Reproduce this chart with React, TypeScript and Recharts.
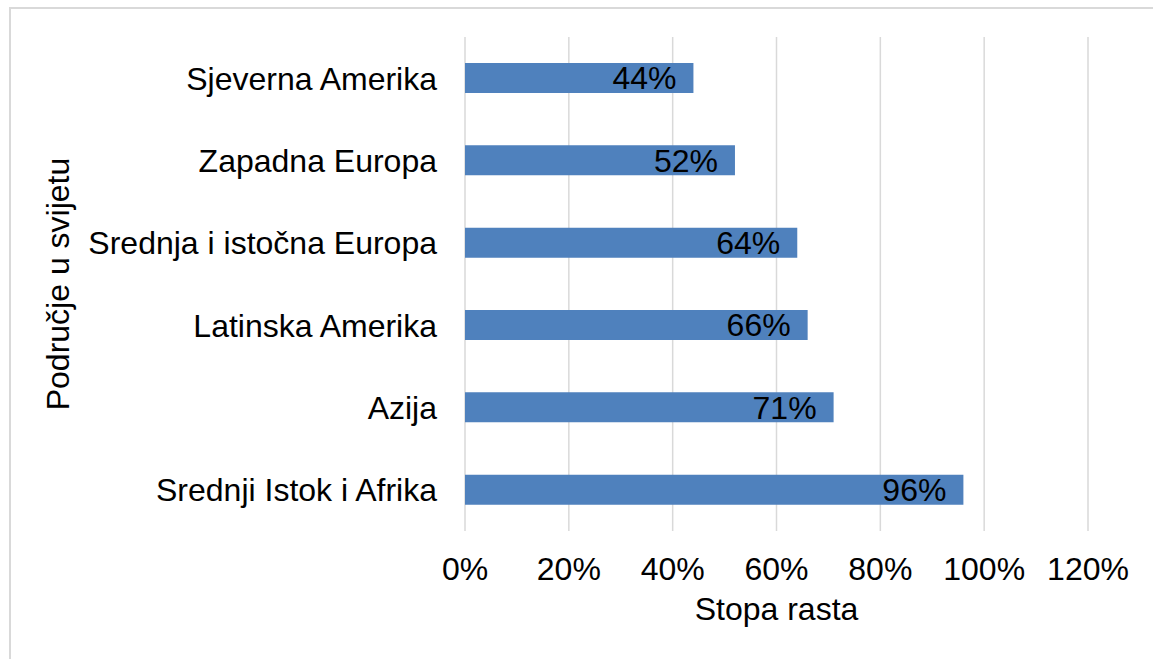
import React from 'react';
import { BarChart, Bar, XAxis, YAxis, CartesianGrid, LabelList, Label } from 'recharts';

// regions of the world and their growth rate
const regions = [
  'Sjeverna Amerika',
  'Zapadna Europa',
  'Srednja i istočna Europa',
  'Latinska Amerika',
  'Azija',
  'Srednji Istok i Afrika',
];
const growth = [0.44, 0.52, 0.64, 0.66, 0.71, 0.96];
const xTicks = [0, 0.2, 0.4, 0.6, 0.8, 1.0, 1.2];

const xTitle = 'Stopa rasta';
const yTitle = 'Područje u svijetu';

const data = regions.map((region, i) => ({ region, value: growth[i] }));

const FONT = '"Liberation Sans", Arial, sans-serif';
const pct = (v: number) => `${Math.round(v * 100)}%`;

export default function App() {
  return (
    <div
      style={{
        position: 'fixed',
        left: 0,
        top: 0,
        width: 1153,
        height: 659,
        overflow: 'hidden',
        background: '#fff',
        fontFamily: FONT,
      }}
    >
      <div
        style={{
          position: 'absolute',
          left: 9,
          top: 7,
          width: 1300,
          height: 800,
          border: '2px solid #d9d9d9',
        }}
      />
      <div style={{ position: 'absolute', left: 0, top: 0 }}>
        <BarChart
          width={1153}
          height={659}
          data={data}
          layout="vertical"
          margin={{ top: 37, right: 65, bottom: 28, left: 0 }}
        >
          <CartesianGrid horizontal={false} stroke="#d9d9d9" strokeWidth={1.5} />
          <XAxis
            type="number"
            domain={[0, 1.2]}
            ticks={xTicks}
            tickFormatter={pct}
            axisLine={false}
            tickLine={false}
            tickMargin={20}
            height={100}
            interval={0}
            tick={{ fontSize: 32, fill: '#000', fontFamily: FONT }}
          >
            <Label
              content={({ viewBox }: any) => (
                <text
                  x={viewBox.x + viewBox.width / 2}
                  y={viewBox.y + 89}
                  textAnchor="middle"
                  fontSize={32}
                  fontFamily={FONT}
                  fill="#000"
                >
                  {xTitle}
                </text>
              )}
            />
          </XAxis>
          <YAxis
            type="category"
            dataKey="region"
            width={465}
            axisLine={false}
            tickLine={false}
            tickMargin={22}
            interval={0}
            tick={{ fontSize: 32, fill: '#000', fontFamily: FONT }}
          >
            <Label
              content={({ viewBox }: any) => (
                <text
                  x={69}
                  y={viewBox.y + viewBox.height / 2}
                  transform={`rotate(-90 69 ${viewBox.y + viewBox.height / 2})`}
                  textAnchor="middle"
                  fontSize={32}
                  fontFamily={FONT}
                  fill="#000"
                >
                  {yTitle}
                </text>
              )}
            />
          </YAxis>
          <Bar dataKey="value" fill="#4f81bd" barSize={30} isAnimationActive={false}>
            <LabelList
              dataKey="value"
              position="insideRight"
              offset={17}
              formatter={(v: any) => pct(Number(v))}
              style={{ fontSize: 32, fill: '#000', fontFamily: FONT }}
            />
          </Bar>
        </BarChart>
      </div>
    </div>
  );
}
